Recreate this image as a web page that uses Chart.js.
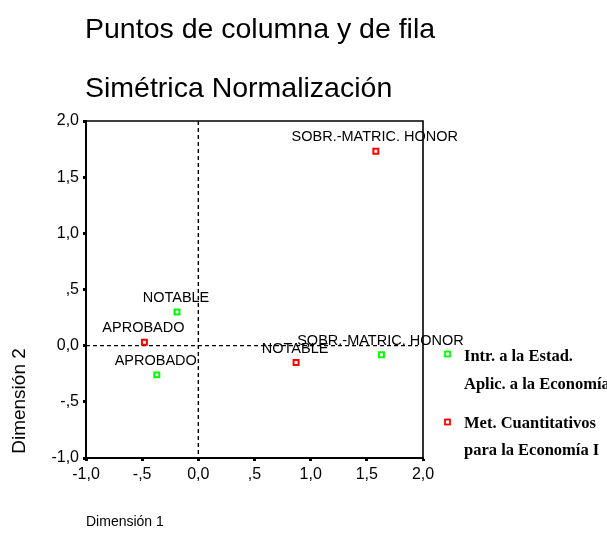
<!DOCTYPE html>
<html>
<head>
<meta charset="utf-8">
<script src="https://cdn.jsdelivr.net/npm/chart.js@4/dist/chart.umd.min.js"></script>
<style>
  html, body { margin: 0; padding: 0; background: #fff; }
  canvas { display: block; }
</style>
</head>
<body>
<canvas id="chart" width="607" height="533"></canvas>
<script>
// Row / column points
const categories = ['APROBADO', 'NOTABLE', 'SOBR.-MATRIC. HONOR'];
const intrX = [-0.37, -0.19, 1.63];
const intrY = [-0.26, 0.30, -0.08];
const metX = [-0.48, 0.87, 1.58];
const metY = [0.03, -0.15, 1.73];

const tickValues = [-1, -0.5, 0, 0.5, 1, 1.5, 2];
const tickLabels = ['-1,0', '-,5', '0,0', ',5', '1,0', '1,5', '2,0'];

const titleLines = ['Puntos de columna y de fila', 'Simétrica Normalización'];
const xTitle = 'Dimensión 1';
const yTitle = 'Dimensión 2';
const legendItems = [
  { color: '#00ff00', lines: ['Intr. a la Estad.', 'Aplic. a la Economía'] },
  { color: '#ff0000', lines: ['Met. Cuantitativos', 'para la Economía I'] }
];

function toPoints(xs, ys) {
  return xs.map((x, i) => ({ x: x, y: ys[i], label: categories[i] }));
}

function tickCallback(value) {
  const i = tickValues.findIndex(v => Math.abs(v - value) < 1e-6);
  return i >= 0 ? tickLabels[i] : '';
}

const sans = '"Liberation Sans", Arial, sans-serif';
const serif = '"Liberation Serif", "Times New Roman", serif';

const decorPlugin = {
  id: 'decor',
  beforeDatasetsDraw(chart) {
    const ctx = chart.ctx;
    const area = chart.chartArea;
    const xs = chart.scales.x, ys = chart.scales.y;
    const x0 = xs.getPixelForValue(0);
    const y0 = ys.getPixelForValue(0);
    ctx.save();
    // top and right frame
    ctx.strokeStyle = '#000';
    ctx.lineWidth = 1.6;
    ctx.beginPath();
    ctx.moveTo(area.left, area.top);
    ctx.lineTo(area.right, area.top);
    ctx.lineTo(area.right, area.bottom);
    ctx.stroke();
    // zero reference lines
    ctx.lineWidth = 1.4;
    ctx.setLineDash([4, 3]);
    ctx.beginPath();
    ctx.moveTo(x0, area.top);
    ctx.lineTo(x0, area.bottom);
    ctx.moveTo(area.left, y0);
    ctx.lineTo(area.right - 5, y0);
    ctx.stroke();
    ctx.restore();
  },
  afterDatasetsDraw(chart) {
    const ctx = chart.ctx;
    ctx.save();
    // point labels
    ctx.fillStyle = '#000';
    ctx.font = '14.5px ' + sans;
    ctx.textAlign = 'center';
    ctx.textBaseline = 'alphabetic';
    chart.data.datasets.forEach((ds, di) => {
      chart.getDatasetMeta(di).data.forEach((pt, j) => {
        ctx.fillText(ds.data[j].label, pt.x - 1, pt.y - 10);
      });
    });

    // titles
    ctx.textAlign = 'left';
    ctx.font = '28.5px ' + sans;
    ctx.fillText(titleLines[0], 85, 38);
    ctx.fillText(titleLines[1], 85, 97);

    // axis titles
    ctx.font = '14px ' + sans;
    ctx.textBaseline = 'middle';
    ctx.fillText(xTitle, 86, 522);
    ctx.save();
    ctx.translate(20, 401);
    ctx.rotate(-Math.PI / 2);
    ctx.textAlign = 'center';
    ctx.font = '19px ' + sans;
    ctx.fillText(yTitle, 0, 0);
    ctx.restore();

    // legend
    const rows = [[354, 357, 385], [422, 424, 451]];
    legendItems.forEach((item, k) => {
      ctx.strokeStyle = item.color;
      ctx.lineWidth = 1.8;
      ctx.strokeRect(445, rows[k][0] - 2.5, 5, 5);
      ctx.fillStyle = '#000';
      ctx.font = 'bold 16.5px ' + serif;
      ctx.textAlign = 'left';
      ctx.fillText(item.lines[0], 464, rows[k][1]);
      ctx.fillText(item.lines[1], 464, rows[k][2]);
    });
    ctx.restore();
  }
};

const axisCommon = {
  type: 'linear',
  min: -1,
  max: 2,
  afterBuildTicks(scale) {
    scale.ticks = tickValues.map(v => ({ value: v }));
  },
  border: { display: true, color: '#000', width: 2 },
  grid: {
    display: true,
    drawOnChartArea: false,
    drawTicks: true,
    tickLength: 3,
    tickWidth: 3,
    tickColor: '#000'
  },
  ticks: {
    color: '#000',
    font: { family: sans, size: 16 },
    padding: 4,
    maxRotation: 0,
    autoSkip: false,
    callback: tickCallback
  }
};

new Chart(document.getElementById('chart'), {
  type: 'scatter',
  data: {
    datasets: [
      {
        label: legendItems[0].lines.join(' '),
        data: toPoints(intrX, intrY),
        pointStyle: 'rect',
        pointRadius: 3.5,
        pointHoverRadius: 3.5,
        borderWidth: 2,
        borderColor: '#00ff00',
        backgroundColor: '#ffffff'
      },
      {
        label: legendItems[1].lines.join(' '),
        data: toPoints(metX, metY),
        pointStyle: 'rect',
        pointRadius: 3.5,
        pointHoverRadius: 3.5,
        borderWidth: 2,
        borderColor: '#ff0000',
        backgroundColor: '#ffffff'
      }
    ]
  },
  options: {
    responsive: false,
    animation: false,
    devicePixelRatio: 1,
    layout: { padding: { top: 121, right: 184, left: 0, bottom: 0 } },
    plugins: {
      legend: { display: false },
      title: { display: false },
      tooltip: { enabled: false }
    },
    scales: {
      x: Object.assign({}, axisCommon, {
        position: 'bottom',
        afterFit(scale) { scale.height = 75; }
      }),
      y: Object.assign({}, axisCommon, {
        position: 'left',
        afterFit(scale) { scale.width = 86; }
      })
    }
  },
  plugins: [decorPlugin]
});
</script>
</body>
</html>
